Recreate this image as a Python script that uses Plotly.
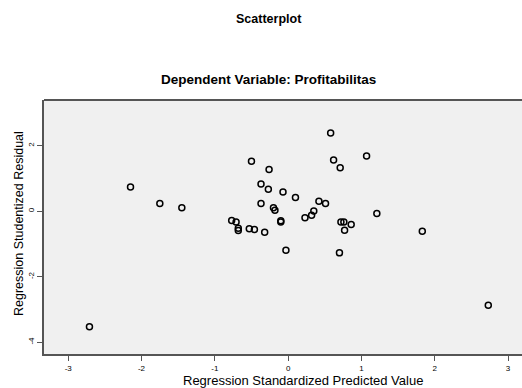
import plotly.graph_objects as go

# Regression standardized predicted value (x) and studentized residual (y)
pred = [-2.71, -2.15, -1.75, -1.45, -0.77, -0.71, -0.68, -0.68, -0.53, -0.46,
        -0.50, -0.37, -0.37, -0.32, -0.27, -0.26, -0.20, -0.18, -0.10, -0.10,
        -0.07, -0.03, 0.10, 0.23, 0.32, 0.35, 0.42, 0.51, 0.58, 0.62,
        0.70, 0.71, 0.72, 0.76, 0.77, 0.86, 1.07, 1.21, 1.83, 2.73]
resid = [-3.53, 0.74, 0.24, 0.11, -0.28, -0.33, -0.52, -0.59, -0.53, -0.56,
         1.53, 0.83, 0.24, -0.64, 0.67, 1.28, 0.11, 0.03, -0.29, -0.33,
         0.59, -1.19, 0.42, -0.20, -0.12, 0.01, 0.31, 0.24, 2.39, 1.57,
         -1.27, 1.33, -0.33, -0.33, -0.58, -0.40, 1.69, -0.07, -0.61, -2.87]

x_ticks = [-3, -2, -1, 0, 1, 2, 3]
y_ticks = [-4, -2, 0, 2]

title = "Scatterplot"
subtitle = "Dependent Variable: Profitabilitas"
x_title = "Regression Standardized Predicted Value"
y_title = "Regression Studentized Residual"

W, H = 522, 388
L, R, T, B = 44, 0, 100, 34
pw, ph = W - L - R, H - T - B

def px(xpix):
    return (xpix - L) / pw

def py(ypix):
    return (H - B - ypix) / ph

FONT = "Liberation Sans, Arial"

fig = go.Figure()
fig.add_trace(go.Scatter(
    x=pred, y=resid, mode="markers",
    marker=dict(symbol="circle-open", size=6, color="black",
                line=dict(width=1.5, color="black")),
    hoverinfo="x+y", showlegend=False,
))

axis_common = dict(
    showgrid=False, zeroline=False, showline=True, linecolor="#555555",
    linewidth=2, ticks="outside", ticklen=5, tickwidth=1, tickcolor="#555555",
    tickfont=dict(family=FONT, size=8, color="black"),
)

fig.update_layout(
    width=W, height=H,
    margin=dict(l=L, r=R, t=T, b=B, pad=0),
    paper_bgcolor="white", plot_bgcolor="#f0f0f0",
    xaxis=dict(range=[-3.33, 3.19], tickvals=x_ticks,
               ticktext=[str(v) for v in x_ticks], **axis_common),
    yaxis=dict(range=[-4.36, 3.40], tickvals=y_ticks,
               ticktext=[str(v) for v in y_ticks], tickangle=-90, **axis_common),
    font=dict(family=FONT, color="black"),
)

# top frame line
fig.add_shape(type="line", xref="paper", yref="paper", x0=0, x1=1, y0=1, y1=1,
              line=dict(color="#555555", width=2))

ann = dict(xref="paper", yref="paper", showarrow=False,
           xanchor="center", yanchor="middle")
fig.add_annotation(text="<b>" + title + "</b>", x=px(269), y=py(19),
                   font=dict(size=12.5, family=FONT), **ann)
fig.add_annotation(text="<b>" + subtitle + "</b>", x=px(268), y=py(80),
                   font=dict(size=13.5, family=FONT), **ann)
fig.add_annotation(text=x_title, x=px(303), y=py(380),
                   font=dict(size=13, family=FONT), **ann)
fig.add_annotation(text=y_title, x=px(19), y=py(224), textangle=-90,
                   font=dict(size=12.5, family=FONT), **ann)

fig.write_html("out.html", config={"displayModeBar": False},
               post_script="document.body.style.margin='0px';")
